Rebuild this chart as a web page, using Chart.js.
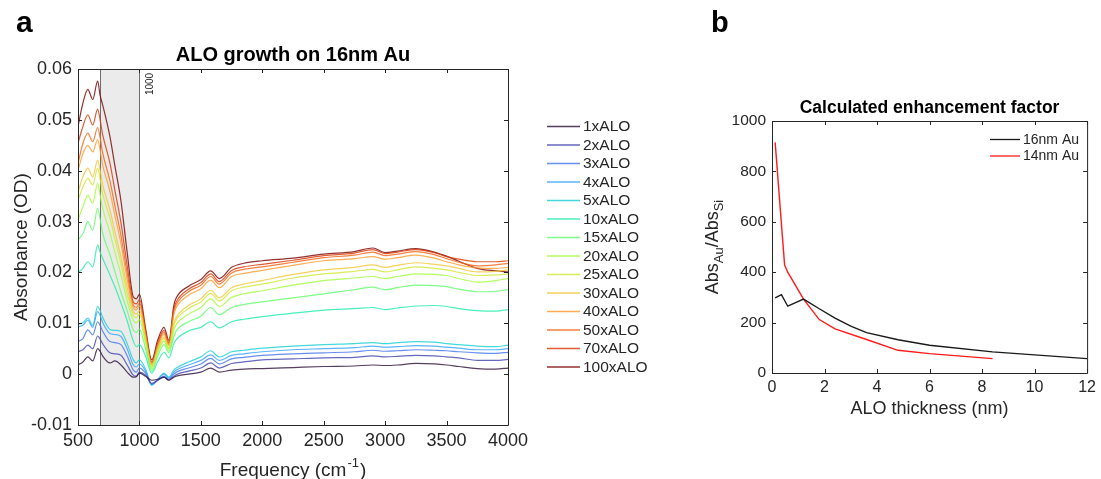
<!DOCTYPE html>
<html>
<head>
  <meta charset="utf-8">
  <title>ALO growth on Au</title>
  <script src="https://cdn.jsdelivr.net/npm/chart.js"></script>
  <style>
    body {
      margin: 0;
      padding: 0;
      background: #fff;
      width: 1101px;
      height: 479px;
      position: relative;
      overflow: hidden;
    }
    #chartA { position: absolute; left: 0; top: 0; }
    #chartB { position: absolute; left: 690px; top: 0; }
  </style>
</head>
<body>
  <canvas id="chartA" width="680" height="479"></canvas>
  <canvas id="chartB" width="411" height="479"></canvas>

  <script>
    // ---- panel a: spectra (absorbance, OD) ----
    const wavenumber = [500, 540, 580, 620, 660, 680, 700, 760, 800, 850, 900, 950, 975, 1000, 1050, 1100, 1150, 1200, 1240, 1280,
      1300, 1400, 1500, 1580, 1650, 1750, 1850, 2000, 2250, 2500, 2750, 2900, 3000, 3100, 3250, 3400, 3500, 3600, 3750, 3900, 4000];

    const alo1 = [0.0018, 0.0024, 0.0034, 0.0026, 0.0050, 0.0045, 0.0036, 0.0022, 0.0026, 0.0018, 0.0004, -0.0006, -0.0005, 0.0002, -0.0004, -0.0012, -0.0010, -0.0006, -0.0012, -0.0006,
      -0.0004, 0.0000, 0.0004, 0.0012, 0.0004, 0.0008, 0.0010, 0.0011, 0.0013, 0.0015, 0.0016, 0.0018, 0.0017, 0.0018, 0.0021, 0.0020, 0.0018, 0.0015, 0.0011, 0.0010, 0.0012];
    const alo2 = [0.0044, 0.0048, 0.0057, 0.0050, 0.0075, 0.0069, 0.0060, 0.0042, 0.0040, 0.0037, 0.0018, -0.0002, -0.0004, 0.0004, -0.0002, -0.0018, -0.0012, -0.0006, -0.0012, -0.0004,
      -0.0001, 0.0006, 0.0012, 0.0022, 0.0012, 0.0021, 0.0024, 0.0028, 0.0030, 0.0032, 0.0033, 0.0036, 0.0034, 0.0035, 0.0037, 0.0036, 0.0034, 0.0032, 0.0027, 0.0027, 0.0029];
    const alo3 = [0.0064, 0.0070, 0.0087, 0.0077, 0.0103, 0.0096, 0.0085, 0.0064, 0.0062, 0.0058, 0.0036, 0.0008, 0.0004, 0.0012, 0.0002, -0.0020, -0.0012, -0.0004, -0.0010, 0.0000,
      0.0004, 0.0012, 0.0020, 0.0031, 0.0020, 0.0030, 0.0033, 0.0037, 0.0040, 0.0042, 0.0044, 0.0047, 0.0045, 0.0046, 0.0048, 0.0047, 0.0046, 0.0044, 0.0042, 0.0041, 0.0043];
    const alo4 = [0.0093, 0.0096, 0.0106, 0.0092, 0.0123, 0.0116, 0.0102, 0.0080, 0.0078, 0.0074, 0.0050, 0.0018, 0.0014, 0.0020, 0.0006, -0.0020, -0.0010, 0.0000, -0.0008, 0.0004,
      0.0008, 0.0018, 0.0027, 0.0038, 0.0027, 0.0037, 0.0040, 0.0044, 0.0048, 0.0050, 0.0052, 0.0055, 0.0053, 0.0054, 0.0056, 0.0055, 0.0053, 0.0051, 0.0048, 0.0048, 0.0050];
    const alo5 = [0.0098, 0.0101, 0.0110, 0.0096, 0.0133, 0.0125, 0.0112, 0.0088, 0.0086, 0.0084, 0.0060, 0.0028, 0.0022, 0.0028, 0.0010, -0.0022, -0.0010, 0.0002, -0.0006, 0.0008,
      0.0012, 0.0024, 0.0034, 0.0046, 0.0034, 0.0044, 0.0047, 0.0051, 0.0055, 0.0058, 0.0060, 0.0062, 0.0060, 0.0062, 0.0064, 0.0063, 0.0060, 0.0058, 0.0055, 0.0054, 0.0057];
    const alo10 = [0.0200, 0.0208, 0.0221, 0.0211, 0.0254, 0.0240, 0.0228, 0.0195, 0.0172, 0.0140, 0.0105, 0.0065, 0.0054, 0.0058, 0.0035, 0.0002, 0.0025, 0.0043, 0.0032, 0.0060,
      0.0068, 0.0085, 0.0092, 0.0103, 0.0091, 0.0103, 0.0108, 0.0113, 0.0120, 0.0126, 0.0129, 0.0131, 0.0127, 0.0130, 0.0134, 0.0135, 0.0133, 0.0129, 0.0125, 0.0124, 0.0127];
    const alo15 = [0.0264, 0.0276, 0.0300, 0.0283, 0.0326, 0.0305, 0.0278, 0.0235, 0.0202, 0.0161, 0.0125, 0.0087, 0.0082, 0.0088, 0.0050, 0.0006, 0.0036, 0.0058, 0.0042, 0.0074,
      0.0085, 0.0103, 0.0114, 0.0131, 0.0117, 0.0131, 0.0137, 0.0142, 0.0150, 0.0158, 0.0166, 0.0171, 0.0166, 0.0170, 0.0175, 0.0174, 0.0172, 0.0167, 0.0162, 0.0163, 0.0166];
    const alo20 = [0.0303, 0.0329, 0.0352, 0.0336, 0.0375, 0.0352, 0.0327, 0.0278, 0.0240, 0.0195, 0.0144, 0.0106, 0.0101, 0.0107, 0.0060, 0.0010, 0.0043, 0.0065, 0.0046, 0.0087,
      0.0098, 0.0118, 0.0131, 0.0148, 0.0133, 0.0151, 0.0158, 0.0164, 0.0175, 0.0184, 0.0189, 0.0192, 0.0188, 0.0192, 0.0197, 0.0196, 0.0194, 0.0188, 0.0181, 0.0184, 0.0188];
    const alo25 = [0.0342, 0.0368, 0.0385, 0.0372, 0.0405, 0.0384, 0.0356, 0.0307, 0.0266, 0.0217, 0.0159, 0.0116, 0.0111, 0.0118, 0.0066, 0.0013, 0.0047, 0.0070, 0.0050, 0.0095,
      0.0107, 0.0129, 0.0142, 0.0159, 0.0144, 0.0164, 0.0171, 0.0177, 0.0189, 0.0197, 0.0202, 0.0206, 0.0201, 0.0205, 0.0211, 0.0208, 0.0205, 0.0200, 0.0194, 0.0195, 0.0197];
    const alo30 = [0.0358, 0.0388, 0.0405, 0.0388, 0.0421, 0.0400, 0.0373, 0.0323, 0.0281, 0.0230, 0.0171, 0.0123, 0.0118, 0.0125, 0.0070, 0.0015, 0.0050, 0.0073, 0.0052, 0.0100,
      0.0112, 0.0135, 0.0148, 0.0165, 0.0150, 0.0170, 0.0177, 0.0184, 0.0196, 0.0205, 0.0210, 0.0215, 0.0210, 0.0214, 0.0219, 0.0216, 0.0213, 0.0208, 0.0201, 0.0202, 0.0205];
    const alo40 = [0.0400, 0.0434, 0.0450, 0.0437, 0.0461, 0.0440, 0.0412, 0.0359, 0.0312, 0.0256, 0.0187, 0.0131, 0.0126, 0.0134, 0.0076, 0.0018, 0.0054, 0.0078, 0.0056, 0.0117,
      0.0131, 0.0155, 0.0168, 0.0185, 0.0170, 0.0192, 0.0198, 0.0204, 0.0214, 0.0223, 0.0227, 0.0231, 0.0226, 0.0229, 0.0234, 0.0228, 0.0221, 0.0215, 0.0209, 0.0208, 0.0210];
    const alo50 = [0.0414, 0.0454, 0.0474, 0.0457, 0.0485, 0.0465, 0.0436, 0.0380, 0.0331, 0.0272, 0.0199, 0.0136, 0.0131, 0.0140, 0.0080, 0.0021, 0.0058, 0.0082, 0.0059, 0.0123,
      0.0137, 0.0162, 0.0175, 0.0192, 0.0177, 0.0199, 0.0206, 0.0211, 0.0220, 0.0229, 0.0234, 0.0240, 0.0233, 0.0236, 0.0241, 0.0235, 0.0227, 0.0220, 0.0213, 0.0215, 0.0218];
    const alo70 = [0.0454, 0.0487, 0.0510, 0.0490, 0.0521, 0.0500, 0.0472, 0.0415, 0.0362, 0.0297, 0.0214, 0.0142, 0.0138, 0.0147, 0.0085, 0.0024, 0.0062, 0.0086, 0.0062, 0.0128,
      0.0142, 0.0167, 0.0180, 0.0197, 0.0182, 0.0204, 0.0211, 0.0216, 0.0224, 0.0233, 0.0238, 0.0245, 0.0237, 0.0240, 0.0245, 0.0239, 0.0231, 0.0226, 0.0221, 0.0221, 0.0223];
    const alo100 = [0.0487, 0.0533, 0.0560, 0.0540, 0.0576, 0.0548, 0.0530, 0.0467, 0.0410, 0.0340, 0.0240, 0.0152, 0.0148, 0.0157, 0.0090, 0.0028, 0.0068, 0.0092, 0.0066, 0.0135,
      0.0150, 0.0173, 0.0186, 0.0203, 0.0188, 0.0210, 0.0218, 0.0223, 0.0228, 0.0236, 0.0241, 0.0248, 0.0239, 0.0242, 0.0247, 0.0240, 0.0232, 0.0222, 0.0208, 0.0203, 0.0201];

    const spectraLabels = ['1xALO', '2xALO', '3xALO', '4xALO', '5xALO', '10xALO', '15xALO', '20xALO', '25xALO', '30xALO', '40xALO', '50xALO', '70xALO', '100xALO'];
    const spectra = [alo1, alo2, alo3, alo4, alo5, alo10, alo15, alo20, alo25, alo30, alo40, alo50, alo70, alo100];
    const shadedBand = [680, 1000];

    // ---- panel b: enhancement factor ----
    const thickness16 = [0.12, 0.36, 0.6, 1.2, 1.8, 2.4, 3.0, 3.6, 4.8, 6.0, 8.4, 12];
    const enhance16 = [298, 311, 265, 293, 255, 218, 186, 160, 132, 110, 84, 57];
    const thickness14 = [0.12, 0.48, 0.6, 1.2, 1.8, 2.4, 3.6, 4.8, 6.0, 8.4];
    const enhance14 = [915, 428, 400, 293, 212, 175, 133, 90, 77, 57];

    // turbo-like colours, 1x .. 100x
    const spectraColors = ['#30123b', '#4346b0', '#4675ed', '#39a2fc', '#1bcfd4', '#24eca6', '#61fc6c',
      '#a4fc3b', '#d1e834', '#f3c63a', '#fe9b2d', '#f36315', '#d93806', '#7a0403'];

    const FONT = '"Liberation Sans", Arial, Helvetica, sans-serif';
    const INK = '#262626';

    function drawFrame(chart) {
      const { ctx, chartArea: a, scales: { x, y } } = chart;
      const tl = 4;
      ctx.save();
      ctx.strokeStyle = INK;
      ctx.lineWidth = 1;
      ctx.beginPath();
      ctx.rect(a.left + 0.5, a.top + 0.5, a.right - a.left, a.bottom - a.top);
      x.ticks.forEach(t => {
        const px = Math.round(x.getPixelForValue(t.value)) + 0.5;
        ctx.moveTo(px, a.bottom); ctx.lineTo(px, a.bottom - tl);
        ctx.moveTo(px, a.top); ctx.lineTo(px, a.top + tl);
      });
      y.ticks.forEach(t => {
        const py = Math.round(y.getPixelForValue(t.value)) + 0.5;
        ctx.moveTo(a.left, py); ctx.lineTo(a.left + tl, py);
        ctx.moveTo(a.right, py); ctx.lineTo(a.right - tl, py);
      });
      ctx.stroke();
      ctx.restore();
    }

    function putText(ctx, str, x, y, font, align) {
      ctx.font = font;
      ctx.textAlign = align || 'left';
      ctx.textBaseline = 'alphabetic';
      ctx.fillText(str, x, y);
    }

    const panelA = {
      id: 'panelA',
      beforeDatasetsDraw(chart) {
        const { ctx, chartArea: a, scales: { x } } = chart;
        const x0 = Math.round(x.getPixelForValue(shadedBand[0])) + 0.5;
        const x1 = Math.round(x.getPixelForValue(shadedBand[1])) + 0.5;
        ctx.save();
        ctx.fillStyle = '#ebebeb';
        ctx.fillRect(x0, a.top, x1 - x0, a.bottom - a.top);
        ctx.strokeStyle = '#6e6e6e';
        ctx.lineWidth = 1;
        ctx.beginPath();
        ctx.moveTo(x0, a.top); ctx.lineTo(x0, a.bottom);
        ctx.moveTo(x1, a.top); ctx.lineTo(x1, a.bottom);
        ctx.stroke();
        // small rotated label next to the band
        ctx.translate(x1 + 13, a.top + 15);
        ctx.rotate(-Math.PI / 2);
        ctx.fillStyle = '#222';
        putText(ctx, String(shadedBand[1]), 0, 0, '10px ' + FONT, 'center');
        ctx.restore();
      },
      afterDatasetsDraw(chart) {
        drawFrame(chart);
      },
      afterDraw(chart) {
        const { ctx, chartArea: a } = chart;
        const cx = (a.left + a.right) / 2;
        ctx.save();
        ctx.fillStyle = '#000';
        putText(ctx, 'a', 16, 32, 'bold 30px ' + FONT);
        putText(ctx, 'ALO growth on 16nm Au', cx, 61, 'bold 20px ' + FONT, 'center');

        // x axis title with superscript
        ctx.fillStyle = INK;
        const main = '19px ' + FONT, sup = '13px ' + FONT;
        ctx.font = main;
        const w1 = ctx.measureText('Frequency (cm').width;
        const w3 = ctx.measureText(')').width;
        ctx.font = sup;
        const w2 = ctx.measureText('-1').width + 2;
        let sx = cx - (w1 + w2 + w3) / 2;
        putText(ctx, 'Frequency (cm', sx, 476, main);
        putText(ctx, '-1', sx + w1 + 1, 467, sup);
        putText(ctx, ')', sx + w1 + w2, 476, main);

        // y axis title
        ctx.save();
        ctx.translate(27, (a.top + a.bottom) / 2);
        ctx.rotate(-Math.PI / 2);
        putText(ctx, 'Absorbance (OD)', 0, 0, '19px ' + FONT, 'center');
        ctx.restore();

        // legend
        chart.data.datasets.forEach((ds, i) => {
          const ly = 126 + i * 18.5;
          ctx.strokeStyle = ds.borderColor;
          ctx.lineWidth = 1.6;
          ctx.beginPath();
          ctx.moveTo(547, ly + 0.5); ctx.lineTo(580, ly + 0.5);
          ctx.stroke();
          ctx.fillStyle = INK;
          ctx.font = '15.5px ' + FONT;
          ctx.textAlign = 'left';
          ctx.textBaseline = 'middle';
          ctx.fillText(ds.label, 583, ly + 1);
        });
        ctx.restore();
      }
    };

    const panelB = {
      id: 'panelB',
      afterDatasetsDraw(chart) {
        drawFrame(chart);
      },
      afterDraw(chart) {
        const { ctx, chartArea: a } = chart;
        const cx = (a.left + a.right) / 2;
        ctx.save();
        ctx.fillStyle = '#000';
        putText(ctx, 'b', 21, 32, 'bold 29px ' + FONT);
        putText(ctx, 'Calculated enhancement factor', cx, 113, 'bold 17.5px ' + FONT, 'center');
        ctx.fillStyle = INK;
        putText(ctx, 'ALO thickness (nm)', cx, 414, '18px ' + FONT, 'center');

        // y axis title Abs_Au / Abs_Si
        const main = '18px ' + FONT, sub = '13px ' + FONT;
        const parts = [['Abs', main, 0], ['Au', sub, 5], ['/Abs', main, 0], ['Si', sub, 5]];
        let total = 0;
        parts.forEach(p => { ctx.font = p[1]; total += ctx.measureText(p[0]).width; });
        ctx.save();
        ctx.translate(28, (a.top + a.bottom) / 2);
        ctx.rotate(-Math.PI / 2);
        let px = -total / 2;
        parts.forEach(p => {
          putText(ctx, p[0], px, p[2], p[1]);
          ctx.font = p[1];
          px += ctx.measureText(p[0]).width;
        });
        ctx.restore();

        // legend inside the axes
        chart.data.datasets.forEach((ds, i) => {
          const ly = 139 + i * 16.5;
          ctx.strokeStyle = ds.borderColor;
          ctx.lineWidth = 1.3;
          ctx.beginPath();
          ctx.moveTo(300, ly + 0.5); ctx.lineTo(330, ly + 0.5);
          ctx.stroke();
          ctx.fillStyle = INK;
          ctx.font = '14px ' + FONT;
          ctx.textAlign = 'left';
          ctx.textBaseline = 'middle';
          ctx.fillText(ds.label, 333, ly + 1);
        });
        ctx.restore();
      }
    };

    const tickFont = size => ({ size: size, family: FONT });

    new Chart(document.getElementById('chartA'), {
      type: 'line',
      data: {
        datasets: spectra.map((vals, i) => ({
          label: spectraLabels[i],
          data: vals.map((v, j) => ({ x: wavenumber[j], y: v })),
          borderColor: spectraColors[i] + 'd0',
          borderWidth: 1.2,
          pointRadius: 0,
          cubicInterpolationMode: 'monotone',
          fill: false
        }))
      },
      options: {
        responsive: false,
        devicePixelRatio: 1,
        animation: false,
        layout: { padding: { left: 0, top: 69, right: 172, bottom: 0 } },
        plugins: { legend: { display: false }, tooltip: { enabled: false } },
        scales: {
          x: {
            type: 'linear', min: 500, max: 4000,
            afterFit: s => { s.height = 54; },
            grid: { display: false, drawTicks: false },
            border: { display: false },
            ticks: { stepSize: 500, padding: 5, maxRotation: 0, autoSkip: false, color: INK, font: tickFont(18), callback: v => String(v) }
          },
          y: {
            min: -0.01, max: 0.06,
            afterFit: s => { s.width = 78; },
            grid: { display: false, drawTicks: false },
            border: { display: false },
            ticks: { stepSize: 0.01, padding: 6, color: INK, font: tickFont(18),
              callback: v => Math.abs(v) < 1e-9 ? '0' : String(parseFloat(v.toFixed(2))) }
          }
        }
      },
      plugins: [panelA]
    });

    new Chart(document.getElementById('chartB'), {
      type: 'line',
      data: {
        datasets: [
          { label: '16nm Au', data: thickness16.map((t, i) => ({ x: t, y: enhance16[i] })),
            borderColor: '#1a1a1a', borderWidth: 1.4, pointRadius: 0, tension: 0, fill: false },
          { label: '14nm Au', data: thickness14.map((t, i) => ({ x: t, y: enhance14[i] })),
            borderColor: '#ff1a1a', borderWidth: 1.4, pointRadius: 0, tension: 0, fill: false }
        ]
      },
      options: {
        responsive: false,
        devicePixelRatio: 1,
        animation: false,
        layout: { padding: { left: 0, top: 121, right: 9, bottom: 0 } },
        plugins: { legend: { display: false }, tooltip: { enabled: false } },
        scales: {
          x: {
            type: 'linear', min: 0, max: 12,
            afterFit: s => { s.height = 106; },
            grid: { display: false, drawTicks: false },
            border: { display: false },
            ticks: { stepSize: 2, padding: 5, maxRotation: 0, autoSkip: false, color: INK, font: tickFont(16), callback: v => String(v) }
          },
          y: {
            min: 0, max: 1000,
            afterFit: s => { s.width = 82; },
            grid: { display: false, drawTicks: false },
            border: { display: false },
            ticks: { stepSize: 200, padding: 6, color: INK, font: tickFont(15.5), callback: v => String(v) }
          }
        }
      },
      plugins: [panelB]
    });
  </script>
</body>
</html>
